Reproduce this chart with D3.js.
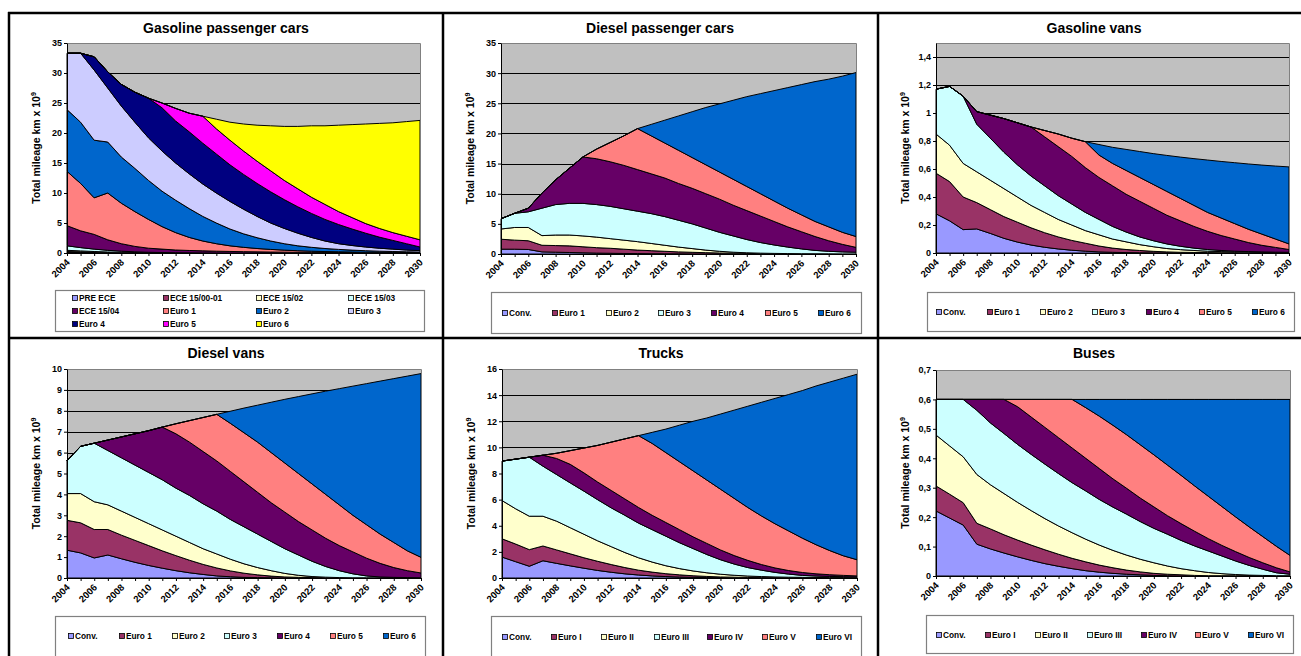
<!DOCTYPE html>
<html>
<head>
<meta charset="utf-8">
<script src="https://cdn.jsdelivr.net/npm/d3@7"></script>
<style>
body { margin: 0; background: #fff; }
svg { display: block; font-family: "Liberation Sans", Arial, sans-serif; }
</style>
</head>
<body>
<svg id="chart" width="1301" height="656"></svg>
<script>
// Categories and tick labels
const YEARS = [2004, 2005, 2006, 2007, 2008, 2009, 2010, 2011, 2012, 2013, 2014, 2015, 2016, 2017,
    2018, 2019, 2020, 2021, 2022, 2023, 2024, 2025, 2026, 2027, 2028, 2029, 2030];
const YEAR_LABELS = [2004, 2006, 2008, 2010, 2012, 2014, 2016, 2018, 2020, 2022, 2024, 2026, 2028, 2030];

const TICKS_35 = [0, 5, 10, 15, 20, 25, 30, 35];
const TICKS_GV = [0, 0.2, 0.4, 0.6, 0.8, 1, 1.2, 1.4];
const TICKS_DV = [0, 1, 2, 3, 4, 5, 6, 7, 8, 9, 10];
const TICKS_TR = [0, 2, 4, 6, 8, 10, 12, 14, 16];
const TICKS_BU = [0, 0.1, 0.2, 0.3, 0.4, 0.5, 0.6, 0.7];

// Gasoline passenger cars (km x 10^9)
const GPC_NAMES = ['PRE ECE', 'ECE 15/00-01', 'ECE 15/02', 'ECE 15/03', 'ECE 15/04',
    'Euro 1', 'Euro 2', 'Euro 3', 'Euro 4', 'Euro 5', 'Euro 6'];
const GPC_VALUES = [
    [0.1, 0.08, 0.06, 0.04, 0.03, 0.02, 0.01, 0, 0, 0, 0, 0, 0, 0, 0, 0, 0, 0, 0, 0, 0, 0, 0, 0, 0, 0, 0],
    [0.15, 0.12, 0.09, 0.06, 0.04, 0.03, 0.02, 0.01, 0, 0, 0, 0, 0, 0, 0, 0, 0, 0, 0, 0, 0, 0, 0, 0, 0, 0, 0],
    [0.2, 0.15, 0.1, 0.07, 0.05, 0.03, 0.02, 0.01, 0, 0, 0, 0, 0, 0, 0, 0, 0, 0, 0, 0, 0, 0, 0, 0, 0, 0, 0],
    [0.75, 0.55, 0.4, 0.28, 0.18, 0.12, 0.07, 0.06, 0.05, 0.03, 0.02, 0.01, 0, 0, 0, 0, 0, 0, 0, 0, 0, 0, 0, 0, 0, 0, 0],
    [3.35, 2.8, 2.45, 1.75, 1.25, 0.9, 0.68, 0.57, 0.45, 0.39, 0.34, 0.29, 0.26, 0.22, 0.19, 0.16, 0.14, 0.12, 0.1, 0.09, 0.08, 0.07, 0.06, 0.05, 0.05, 0.04, 0.04],
    [9.05, 7.9, 6.1, 7.8, 6.75, 5.8, 4.8, 3.75, 2.9, 2.18, 1.64, 1.25, 0.94, 0.73, 0.56, 0.44, 0.34, 0.26, 0.2, 0.15, 0.12, 0.09, 0.07, 0.06, 0.04, 0.04, 0.03],
    [10.3, 10.2, 9.6, 8.5, 7.7, 7.2, 6.5, 5.9, 5.4, 4.8, 4.1, 3.45, 2.8, 2.25, 1.8, 1.4, 1.07, 0.82, 0.65, 0.51, 0.4, 0.32, 0.25, 0.19, 0.16, 0.12, 0.09],
    [9.4, 11.5, 11.7, 9.0, 8.5, 7.7, 7.1, 6.7, 6.2, 5.8, 5.4, 5.0, 4.6, 4.1, 3.55, 3.0, 2.55, 2.1, 1.65, 1.25, 0.95, 0.77, 0.62, 0.5, 0.4, 0.3, 0.24],
    [0, 0, 2.2, 2.7, 3.6, 5.0, 6.6, 7.2, 7.0, 7.0, 6.8, 6.5, 6.1, 5.8, 5.5, 5.2, 4.8, 4.4, 4.0, 3.6, 3.2, 2.75, 2.3, 1.85, 1.45, 1.05, 0.6],
    [0, 0, 0, 0, 0, 0, 0, 0.8, 2.1, 3.1, 4.5, 4.2, 4.1, 3.9, 3.7, 3.5, 3.2, 3.0, 2.7, 2.5, 2.15, 1.9, 1.6, 1.45, 1.3, 1.25, 1.2],
    [0, 0, 0, 0, 0, 0, 0, 0, 0, 0, 0, 1.6, 3.0, 4.5, 6.0, 7.5, 9.0, 10.4, 11.9, 13.1, 14.4, 15.5, 16.6, 17.5, 18.3, 19.1, 19.9]
];

// Diesel passenger cars
const EURO_NAMES = ['Conv.', 'Euro 1', 'Euro 2', 'Euro 3', 'Euro 4', 'Euro 5', 'Euro 6'];
const DPC_VALUES = [
    [0.8, 0.8, 0.75, 0.35, 0.3, 0.25, 0.2, 0.15, 0.12, 0.09, 0.07, 0.05, 0.04, 0.03, 0.02, 0.01, 0.01, 0, 0, 0, 0, 0, 0, 0, 0, 0, 0],
    [1.65, 1.5, 1.45, 1.1, 1.1, 1.1, 1.0, 0.9, 0.83, 0.71, 0.58, 0.5, 0.41, 0.32, 0.26, 0.21, 0.16, 0.13, 0.1, 0.08, 0.06, 0.05, 0.04, 0.03, 0.02, 0.02, 0.01],
    [1.7, 2.1, 2.2, 1.6, 1.75, 1.8, 1.8, 1.75, 1.6, 1.5, 1.4, 1.2, 1.0, 0.8, 0.62, 0.43, 0.28, 0.17, 0.1, 0.06, 0.04, 0.02, 0.01, 0.01, 0.01, 0, 0.01],
    [1.7, 2.35, 2.6, 4.55, 5.05, 5.25, 5.4, 5.4, 5.35, 5.2, 5.05, 4.95, 4.75, 4.45, 4.1, 3.65, 3.15, 2.7, 2.2, 1.76, 1.4, 1.08, 0.8, 0.56, 0.42, 0.33, 0.28],
    [0, 0, 0.6, 2.5, 4.1, 5.8, 7.7, 7.6, 7.4, 7.2, 6.9, 6.6, 6.4, 6.1, 5.9, 5.7, 5.5, 5.1, 4.8, 4.4, 3.9, 3.35, 2.85, 2.3, 1.75, 1.25, 0.8],
    [0, 0, 0, 0, 0, 0, 0, 1.6, 3.2, 4.9, 6.8, 6.3, 5.8, 5.5, 5.1, 4.8, 4.5, 4.3, 4.0, 3.7, 3.4, 3.1, 2.8, 2.5, 2.3, 2.0, 1.8],
    [0, 0, 0, 0, 0, 0, 0, 0, 0, 0, 0, 1.9, 3.8, 5.7, 7.6, 9.5, 11.3, 13.1, 14.9, 16.6, 18.3, 20.0, 21.6, 23.2, 24.5, 25.9, 27.2]
];

// Gasoline vans
const GV_VALUES = [
    [0.28, 0.23, 0.167, 0.172, 0.14, 0.105, 0.078, 0.057, 0.041, 0.029, 0.02, 0.013, 0.008, 0.005, 0.003, 0.002, 0.001, 0.001, 0, 0, 0, 0, 0, 0, 0, 0, 0],
    [0.29, 0.28, 0.233, 0.188, 0.17, 0.155, 0.142, 0.123, 0.104, 0.086, 0.07, 0.057, 0.042, 0.03, 0.022, 0.016, 0.011, 0.007, 0.005, 0.004, 0.003, 0.002, 0.002, 0.001, 0.001, 0.001, 0.001],
    [0.28, 0.26, 0.24, 0.22, 0.21, 0.2, 0.18, 0.16, 0.145, 0.125, 0.11, 0.09, 0.08, 0.065, 0.055, 0.042, 0.033, 0.024, 0.019, 0.014, 0.01, 0.008, 0.006, 0.005, 0.004, 0.003, 0.002],
    [0.32, 0.42, 0.48, 0.34, 0.3, 0.26, 0.23, 0.21, 0.19, 0.17, 0.15, 0.13, 0.11, 0.09, 0.07, 0.055, 0.043, 0.033, 0.024, 0.017, 0.012, 0.008, 0.005, 0.004, 0.003, 0.002, 0.002],
    [0, 0, 0, 0.09, 0.165, 0.24, 0.3, 0.35, 0.35, 0.35, 0.34, 0.32, 0.3, 0.29, 0.27, 0.255, 0.232, 0.205, 0.182, 0.155, 0.13, 0.107, 0.087, 0.065, 0.047, 0.034, 0.02],
    [0, 0, 0, 0, 0, 0, 0, 0, 0.045, 0.09, 0.13, 0.185, 0.16, 0.16, 0.17, 0.17, 0.17, 0.17, 0.16, 0.15, 0.135, 0.125, 0.11, 0.095, 0.08, 0.06, 0.04],
    [0, 0, 0, 0, 0, 0, 0, 0, 0, 0, 0, 0, 0.075, 0.115, 0.15, 0.185, 0.22, 0.257, 0.295, 0.334, 0.374, 0.404, 0.435, 0.466, 0.493, 0.521, 0.55]
];

// Diesel vans
const DV_VALUES = [
    [1.33, 1.2, 0.96, 1.1, 0.92, 0.75, 0.6, 0.47, 0.35, 0.25, 0.17, 0.1, 0.06, 0.03, 0.02, 0.01, 0, 0, 0, 0, 0, 0, 0, 0, 0, 0, 0],
    [1.43, 1.44, 1.36, 1.22, 1.13, 1.05, 0.95, 0.83, 0.72, 0.6, 0.48, 0.38, 0.28, 0.2, 0.13, 0.08, 0.05, 0.03, 0.02, 0.01, 0.01, 0, 0, 0, 0, 0, 0],
    [1.28, 1.4, 1.33, 1.18, 1.15, 1.1, 1.05, 1.0, 0.93, 0.85, 0.75, 0.67, 0.56, 0.45, 0.35, 0.26, 0.17, 0.1, 0.05, 0.03, 0.01, 0.01, 0.01, 0.01, 0.01, 0.01, 0.01],
    [1.58, 2.26, 2.8, 2.6, 2.55, 2.5, 2.45, 2.4, 2.3, 2.25, 2.15, 2.05, 1.9, 1.77, 1.6, 1.4, 1.18, 0.97, 0.73, 0.51, 0.33, 0.19, 0.09, 0.04, 0.02, 0.01, 0],
    [0, 0, 0, 0.5, 1.0, 1.5, 2.0, 2.52, 2.6, 2.55, 2.5, 2.4, 2.3, 2.15, 2.0, 1.85, 1.75, 1.6, 1.5, 1.35, 1.2, 1.05, 0.85, 0.65, 0.47, 0.33, 0.23],
    [0, 0, 0, 0, 0, 0, 0, 0, 0.48, 1.03, 1.63, 2.23, 2.3, 2.35, 2.4, 2.4, 2.35, 2.3, 2.2, 2.1, 1.95, 1.75, 1.6, 1.4, 1.2, 0.95, 0.75],
    [0, 0, 0, 0, 0, 0, 0, 0, 0, 0, 0, 0, 0.58, 1.18, 1.77, 2.41, 3.05, 3.68, 4.31, 4.94, 5.56, 6.18, 6.75, 7.32, 7.84, 8.36, 8.79]
];

// Trucks
const ROMAN_NAMES = ['Conv.', 'Euro I', 'Euro II', 'Euro III', 'Euro IV', 'Euro V', 'Euro VI'];
const TR_VALUES = [
    [1.6, 1.25, 0.9, 1.32, 1.12, 0.93, 0.75, 0.58, 0.44, 0.32, 0.23, 0.16, 0.11, 0.07, 0.05, 0.03, 0.02, 0.01, 0.01, 0.01, 0, 0, 0, 0, 0, 0, 0],
    [1.4, 1.35, 1.27, 1.13, 1.03, 0.92, 0.8, 0.7, 0.59, 0.48, 0.37, 0.29, 0.22, 0.17, 0.12, 0.09, 0.06, 0.05, 0.03, 0.02, 0.02, 0.02, 0.02, 0.02, 0.02, 0.02, 0.02],
    [2.93, 2.7, 2.56, 2.28, 2.2, 2.0, 1.8, 1.57, 1.37, 1.15, 0.95, 0.77, 0.61, 0.48, 0.37, 0.28, 0.21, 0.15, 0.11, 0.08, 0.06, 0.04, 0.03, 0.02, 0.01, 0.01, 0],
    [3.02, 3.8, 4.52, 3.83, 3.57, 3.43, 3.3, 3.15, 2.97, 2.85, 2.65, 2.48, 2.26, 1.98, 1.71, 1.4, 1.11, 0.86, 0.65, 0.49, 0.35, 0.24, 0.15, 0.11, 0.09, 0.07, 0.06],
    [0, 0, 0, 0.84, 1.23, 1.42, 1.4, 1.35, 1.33, 1.25, 1.2, 1.1, 1.05, 1.0, 0.9, 0.85, 0.75, 0.65, 0.55, 0.43, 0.34, 0.27, 0.22, 0.17, 0.13, 0.1, 0.08],
    [0, 0, 0, 0, 0.4, 1.05, 1.9, 2.8, 3.7, 4.6, 5.5, 5.5, 5.35, 5.2, 5.05, 4.85, 4.65, 4.38, 4.05, 3.72, 3.38, 3.03, 2.63, 2.23, 1.85, 1.5, 1.24],
    [0, 0, 0, 0, 0, 0, 0, 0, 0, 0, 0, 0.85, 1.8, 2.8, 3.8, 4.75, 5.75, 6.75, 7.75, 8.7, 9.6, 10.45, 11.3, 12.15, 12.9, 13.6, 14.2]
];

// Buses
const BU_VALUES = [
    [0.221, 0.197, 0.173, 0.108, 0.092, 0.078, 0.065, 0.053, 0.042, 0.033, 0.025, 0.018, 0.013, 0.009, 0.006, 0.004, 0.002, 0.001, 0, 0, 0, 0, 0, 0, 0, 0, 0],
    [0.085, 0.081, 0.076, 0.071, 0.068, 0.062, 0.057, 0.052, 0.047, 0.041, 0.035, 0.03, 0.024, 0.019, 0.014, 0.01, 0.007, 0.005, 0.004, 0.002, 0.001, 0.001, 0.001, 0.001, 0.001, 0.001, 0.001],
    [0.173, 0.164, 0.156, 0.166, 0.15, 0.14, 0.128, 0.117, 0.106, 0.096, 0.087, 0.077, 0.068, 0.059, 0.051, 0.043, 0.036, 0.028, 0.021, 0.016, 0.011, 0.007, 0.004, 0.002, 0.001, 0, 0],
    [0.121, 0.158, 0.195, 0.218, 0.21, 0.204, 0.197, 0.191, 0.185, 0.178, 0.17, 0.164, 0.155, 0.147, 0.139, 0.128, 0.117, 0.108, 0.096, 0.084, 0.073, 0.06, 0.046, 0.033, 0.021, 0.01, 0.005],
    [0, 0, 0, 0.037, 0.08, 0.116, 0.128, 0.127, 0.125, 0.122, 0.118, 0.111, 0.105, 0.096, 0.088, 0.08, 0.073, 0.063, 0.057, 0.05, 0.042, 0.036, 0.032, 0.027, 0.022, 0.017, 0.008],
    [0, 0, 0, 0, 0, 0, 0.025, 0.06, 0.095, 0.13, 0.165, 0.172, 0.178, 0.182, 0.182, 0.181, 0.177, 0.172, 0.164, 0.154, 0.144, 0.132, 0.118, 0.104, 0.089, 0.073, 0.056],
    [0, 0, 0, 0, 0, 0, 0, 0, 0, 0, 0, 0.028, 0.057, 0.088, 0.12, 0.154, 0.188, 0.223, 0.258, 0.294, 0.329, 0.364, 0.399, 0.433, 0.466, 0.499, 0.53]
];

// Excel default fill palette
const ECE_COLORS = ['#9999FF', '#993366', '#FFFFCC', '#CCFFFF', '#660066', '#FF8080',
    '#0066CC', '#CCCCFF', '#000080', '#FF00FF', '#FFFF00'];
const EURO_COLORS = ['#9999FF', '#993366', '#FFFFCC', '#CCFFFF', '#660066', '#FF8080', '#0066CC'];

const panels = [
    { title: 'Gasoline passenger cars', cx: 226, titleY: 33,
      plot: { x0: 67, x1: 420, y0: 43, y1: 253 }, yMax: 35, yTicks: TICKS_35,
      names: GPC_NAMES, values: GPC_VALUES, colors: ECE_COLORS,
      legBox: [55, 290, 424, 331],
      legPos: GPC_NAMES.map((_, i) => [[72, 163, 256, 348][i % 4], [298, 311, 324][Math.floor(i / 4)]]) },
    { title: 'Diesel passenger cars', cx: 660, titleY: 33,
      plot: { x0: 501, x1: 856, y0: 43, y1: 254 }, yMax: 35, yTicks: TICKS_35,
      names: EURO_NAMES, values: DPC_VALUES, colors: EURO_COLORS,
      legBox: [491, 292, 861, 333],
      legPos: [502, 552, 606, 658, 711, 765, 818].map(x => [x, 313]) },
    { title: 'Gasoline vans', cx: 1094, titleY: 33,
      plot: { x0: 936, x1: 1289, y0: 43, y1: 253 }, yMax: 1.5, yTicks: TICKS_GV,
      names: EURO_NAMES, values: GV_VALUES, colors: EURO_COLORS,
      legBox: [927, 292, 1294, 331],
      legPos: [936, 987, 1040, 1092, 1146, 1199, 1252].map(x => [x, 312]) },
    { title: 'Diesel vans', cx: 226, titleY: 358,
      plot: { x0: 67, x1: 421, y0: 369, y1: 578 }, yMax: 10, yTicks: TICKS_DV,
      names: EURO_NAMES, values: DV_VALUES, colors: EURO_COLORS,
      legBox: [55, 616, 425, 662],
      legPos: [68, 119, 172, 224, 277, 330, 383].map(x => [x, 636]) },
    { title: 'Trucks', cx: 661, titleY: 358,
      plot: { x0: 502, x1: 857, y0: 369, y1: 578 }, yMax: 16, yTicks: TICKS_TR,
      names: ROMAN_NAMES, values: TR_VALUES, colors: EURO_COLORS,
      legBox: [491, 616, 861, 662],
      legPos: [502, 551, 601, 654, 707, 762, 816].map(x => [x, 637]) },
    { title: 'Buses', cx: 1094, titleY: 358,
      plot: { x0: 936, x1: 1290, y0: 370, y1: 576 }, yMax: 0.7, yTicks: TICKS_BU,
      names: ROMAN_NAMES, values: BU_VALUES, colors: EURO_COLORS,
      legBox: [926, 615, 1293, 653],
      legPos: [936, 985, 1035, 1087, 1141, 1195, 1248].map(x => [x, 635]) }
];

const svg = d3.select('#chart');
const fmtNum = d => String(+d.toFixed(2)).replace('.', ',');

panels.forEach(drawPanel);
drawFrame();

function drawPanel(p) {
    const g = svg.append('g');
    const pl = p.plot;

    const x = d3.scaleLinear()
        .domain([YEARS[0], YEARS[YEARS.length - 1]])
        .range([pl.x0, pl.x1]);
    const y = d3.scaleLinear()
        .domain([0, p.yMax])
        .range([pl.y1, pl.y0]);

    // plot area background
    g.append('rect')
        .attr('x', pl.x0).attr('y', pl.y0)
        .attr('width', pl.x1 - pl.x0).attr('height', pl.y1 - pl.y0)
        .attr('fill', '#C0C0C0');

    // gridlines
    g.selectAll('line.grid')
        .data(p.yTicks.filter(t => t > 0 && t < p.yMax - 1e-9))
        .join('line')
        .attr('x1', pl.x0).attr('x2', pl.x1)
        .attr('y1', d => Math.round(y(d)) + 0.5).attr('y2', d => Math.round(y(d)) + 0.5)
        .attr('stroke', '#000').attr('stroke-width', 1);

    // stacked areas
    const rows = YEARS.map((yr, i) => {
        const r = { year: yr };
        p.values.forEach((s, k) => { r[k] = s[i]; });
        return r;
    });
    const layers = d3.stack().keys(p.values.map((_, k) => k))(rows);
    const area = d3.area()
        .x(d => x(d.data.year))
        .y0(d => y(d[0]))
        .y1(d => y(d[1]));

    g.selectAll('path.layer')
        .data(layers)
        .join('path')
        .attr('class', 'layer')
        .attr('d', area)
        .attr('fill', (d, i) => p.colors[i])
        .attr('stroke', '#000')
        .attr('stroke-width', 1)
        .attr('stroke-linejoin', 'round');

    // plot border (top / right)
    g.append('path')
        .attr('d', `M${pl.x0},${pl.y0 + 0.5}H${pl.x1 + 0.5}V${pl.y1}`)
        .attr('fill', 'none')
        .attr('stroke', '#808080')
        .attr('stroke-width', 1);

    // y axis
    const yAxis = g.append('g')
        .attr('transform', `translate(${pl.x0},0)`)
        .call(d3.axisLeft(y).tickValues(p.yTicks).tickSize(3).tickSizeOuter(0).tickFormat(fmtNum));
    yAxis.select('.domain').attr('stroke', '#000');
    yAxis.selectAll('text')
        .attr('x', -5)
        .style('font-size', '9px').style('font-weight', 'bold')
        .style('font-family', '"Liberation Sans", Arial, sans-serif')
        .attr('fill', '#000');

    // x axis
    const xAxis = g.append('g')
        .attr('transform', `translate(0,${pl.y1})`)
        .call(d3.axisBottom(x).tickValues(YEARS).tickSize(3).tickSizeOuter(0)
            .tickFormat(d => YEAR_LABELS.includes(d) ? String(d) : ''));
    xAxis.select('.domain').attr('stroke', '#000');
    xAxis.selectAll('text')
        .attr('x', 0).attr('y', 0).attr('dy', 0)
        .attr('transform', 'translate(3,10) rotate(-45)')
        .style('text-anchor', 'end')
        .style('font-size', '9.5px').style('font-weight', 'bold')
        .style('font-family', '"Liberation Sans", Arial, sans-serif')
        .attr('fill', '#000');

    // y axis title
    const yt = g.append('text')
        .attr('transform', `translate(${pl.x0 - 27},${(pl.y0 + pl.y1) / 2}) rotate(-90)`)
        .attr('text-anchor', 'middle')
        .style('font-size', '10.5px').style('font-weight', 'bold')
        .text('Total mileage km x 10');
    yt.append('tspan')
        .attr('dy', -4)
        .style('font-size', '7px')
        .text('9');

    // chart title
    g.append('text')
        .attr('x', p.cx).attr('y', p.titleY)
        .attr('text-anchor', 'middle')
        .style('font-size', '14px').style('font-weight', 'bold')
        .text(p.title);

    // legend
    const [lx0, ly0, lx1, ly1] = p.legBox;
    g.append('rect')
        .attr('x', lx0 + 0.5).attr('y', ly0 + 0.5)
        .attr('width', lx1 - lx0).attr('height', ly1 - ly0)
        .attr('fill', '#fff')
        .attr('stroke', '#808080')
        .attr('stroke-width', 1.2);

    const items = g.selectAll('g.leg')
        .data(p.names)
        .join('g')
        .attr('class', 'leg')
        .attr('transform', (d, i) => `translate(${p.legPos[i][0]},${p.legPos[i][1]})`);
    items.append('rect')
        .attr('x', 0.5).attr('y', -2.5)
        .attr('width', 5).attr('height', 5)
        .attr('fill', (d, i) => p.colors[i])
        .attr('stroke', '#000')
        .attr('stroke-width', 0.8);
    items.append('text')
        .attr('x', 7).attr('y', 3)
        .style('font-size', '8.3px').style('font-weight', 'bold')
        .text(d => d);
}

function drawFrame() {
    const frame = svg.append('g')
        .attr('stroke', '#000')
        .attr('stroke-width', 2.5);
    [13, 338].forEach(yy => {
        frame.append('line').attr('x1', 8).attr('x2', 1301).attr('y1', yy).attr('y2', yy);
    });
    [9, 443, 878].forEach(xx => {
        frame.append('line').attr('x1', xx).attr('x2', xx).attr('y1', 12).attr('y2', 656);
    });
}
</script>
</body>
</html>
